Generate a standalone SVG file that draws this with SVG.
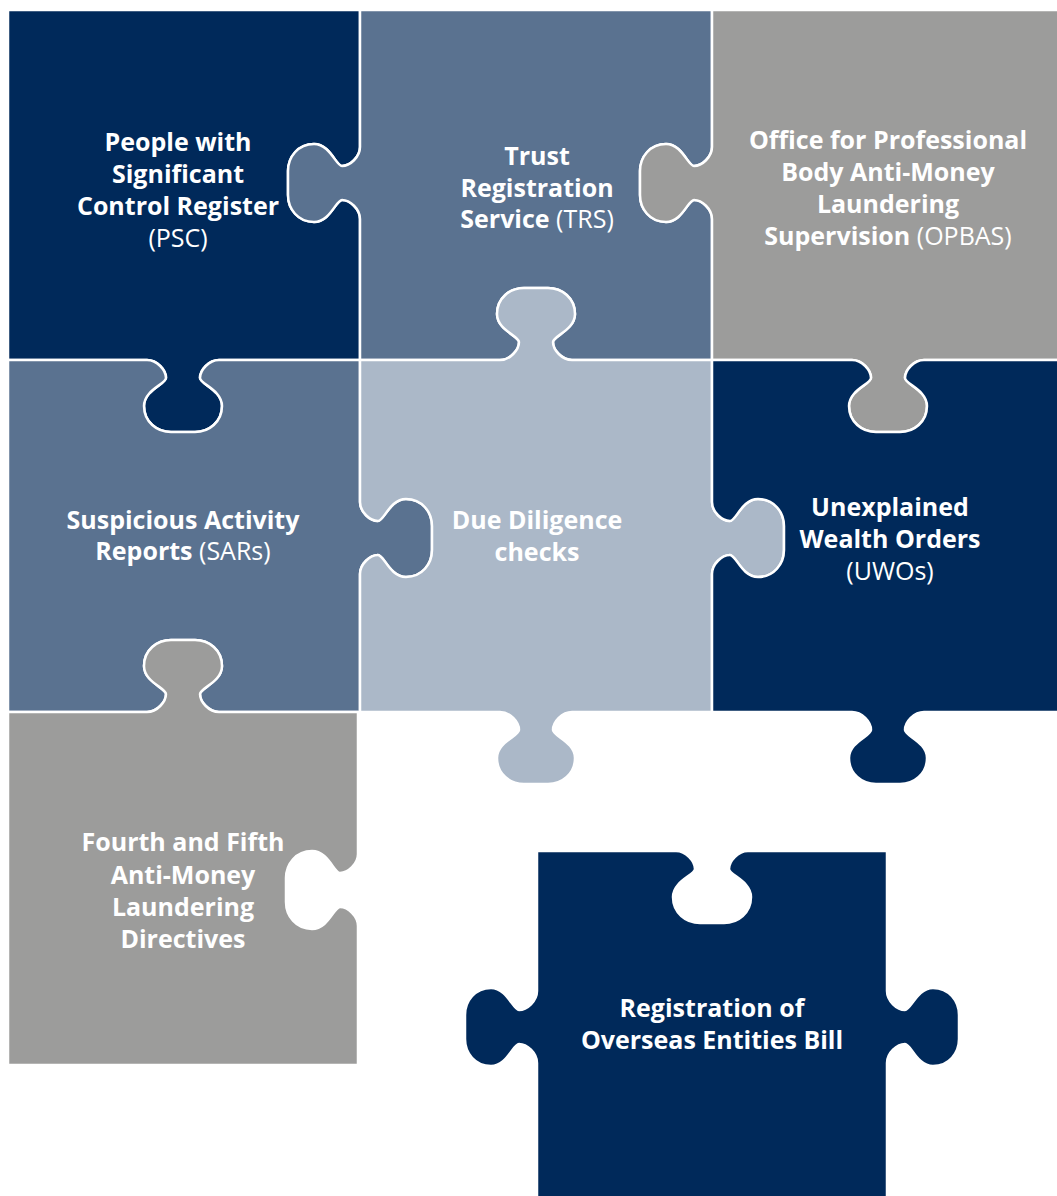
<svg xmlns="http://www.w3.org/2000/svg" width="1057" height="1196" viewBox="0 0 1057 1196">
  <style>
    .piece { stroke: #ffffff; stroke-width: 2.5; stroke-linejoin: round; }
    .navy { fill: #00295a; }
    .slate { fill: #5a7290; }
    .grey { fill: #9c9c9b; }
    .light { fill: #abb8c8; }
    .label { font-family: "Open Sans", "Noto Sans", sans-serif; font-size: 25px; fill: #ffffff; text-anchor: middle; font-weight: 700; }
    .reg { font-weight: 400; }
  </style>
  <rect width="1057" height="1196" fill="#ffffff"/>

  <g id="psc">
    <path class="piece navy" d="M8 10 H360 V147 C360 157 350 166 342 166 C336 166 330 144 314 144 C298 144 288 157 288 171 L288 195 C288 209 298 222 314 222 C330 222 336 200 342 200 C350 200 360 209 360 219 V360 H219 C209 360 200 370 200 378 C200 384 222 390 222 406 C222 422 209 432 195 432 L171 432 C157 432 144 422 144 406 C144 390 166 384 166 378 C166 370 157 360 147 360 H8 Z"/>
    <text class="label" x="178" y="151">People with</text>
    <text class="label" x="178" y="183">Significant</text>
    <text class="label" x="178" y="215">Control Register</text>
    <text class="label reg" x="178" y="247">(PSC)</text>
  </g>

  <g id="trs">
    <path class="piece slate" d="M360 10 H712 V147 C712 157 702 166 694 166 C688 166 682 144 666 144 C650 144 640 157 640 171 L640 195 C640 209 650 222 666 222 C682 222 688 200 694 200 C702 200 712 209 712 219 V360 H572 C562 360 553 350 553 342 C553 336 575 330 575 314 C575 298 562 288 548 288 L524 288 C510 288 497 298 497 314 C497 330 519 336 519 342 C519 350 510 360 500 360 H360 V219 C360 209 350 200 342 200 C336 200 330 222 314 222 C298 222 288 209 288 195 L288 171 C288 157 298 144 314 144 C330 144 336 166 342 166 C350 166 360 157 360 147 V10 Z"/>
    <text class="label" x="537" y="165">Trust</text>
    <text class="label" x="537" y="197">Registration</text>
    <text class="label" x="537" y="228">Service<tspan class="reg"> (TRS)</tspan></text>
  </g>

  <g id="opbas">
    <path class="piece grey" d="M712 10 H1060 V360 H924 C914 360 905 370 905 378 C905 384 927 390 927 406 C927 422 914 432 900 432 L876 432 C862 432 849 422 849 406 C849 390 871 384 871 378 C871 370 862 360 852 360 H712 V219 C712 209 702 200 694 200 C688 200 682 222 666 222 C650 222 640 209 640 195 L640 171 C640 157 650 144 666 144 C682 144 688 166 694 166 C702 166 712 157 712 147 V10 Z"/>
    <text class="label" x="888" y="149">Office for Professional</text>
    <text class="label" x="888" y="181">Body Anti-Money</text>
    <text class="label" x="888" y="213">Laundering</text>
    <text class="label" x="888" y="245">Supervision<tspan class="reg"> (OPBAS)</tspan></text>
  </g>

  <g id="sars">
    <path class="piece slate" d="M8 360 H147 C157 360 166 370 166 378 C166 384 144 390 144 406 C144 422 157 432 171 432 L195 432 C209 432 222 422 222 406 C222 390 200 384 200 378 C200 370 209 360 219 360 H360 V502 C360 512 370 521 378 521 C384 521 390 499 406 499 C422 499 432 512 432 526 L432 550 C432 564 422 577 406 577 C390 577 384 555 378 555 C370 555 360 564 360 574 V712 H219 C209 712 200 702 200 694 C200 688 222 682 222 666 C222 650 209 640 195 640 L171 640 C157 640 144 650 144 666 C144 682 166 688 166 694 C166 702 157 712 147 712 H8 Z"/>
    <text class="label" x="183" y="529">Suspicious Activity</text>
    <text class="label" x="183" y="560">Reports<tspan class="reg"> (SARs)</tspan></text>
  </g>

  <g id="due-diligence">
    <path class="piece light" d="M360 360 H500 C510 360 519 350 519 342 C519 336 497 330 497 314 C497 298 510 288 524 288 L548 288 C562 288 575 298 575 314 C575 330 553 336 553 342 C553 350 562 360 572 360 H712 V502 C712 512 722 521 730 521 C736 521 742 499 758 499 C774 499 784 512 784 526 L784 550 C784 564 774 577 758 577 C742 577 736 555 730 555 C722 555 712 564 712 574 V712 H572 C562 712 553 722 553 730 C553 736 575 742 575 758 C575 774 562 784 548 784 L524 784 C510 784 497 774 497 758 C497 742 519 736 519 730 C519 722 510 712 500 712 H360 V574 C360 564 370 555 378 555 C384 555 390 577 406 577 C422 577 432 564 432 550 L432 526 C432 512 422 499 406 499 C390 499 384 521 378 521 C370 521 360 512 360 502 V360 Z"/>
    <text class="label" x="537" y="529">Due Diligence</text>
    <text class="label" x="537" y="561">checks</text>
  </g>

  <g id="uwo">
    <path class="piece navy" d="M712 360 H852 C862 360 871 370 871 378 C871 384 849 390 849 406 C849 422 862 432 876 432 L900 432 C914 432 927 422 927 406 C927 390 905 384 905 378 C905 370 914 360 924 360 H1060 V712 H924 C914 712 905 722 905 730 C905 736 927 742 927 758 C927 774 914 784 900 784 L876 784 C862 784 849 774 849 758 C849 742 871 736 871 730 C871 722 862 712 852 712 H712 V574 C712 564 722 555 730 555 C736 555 742 577 758 577 C774 577 784 564 784 550 L784 526 C784 512 774 499 758 499 C742 499 736 521 730 521 C722 521 712 512 712 502 V360 Z"/>
    <text class="label" x="890" y="516">Unexplained</text>
    <text class="label" x="890" y="548">Wealth Orders</text>
    <text class="label reg" x="890" y="580">(UWOs)</text>
  </g>

  <g id="directives">
    <path class="piece grey" d="M8 712 H147 C157 712 166 702 166 694 C166 688 144 682 144 666 C144 650 157 640 171 640 L195 640 C209 640 222 650 222 666 C222 682 200 688 200 694 C200 702 209 712 219 712 H358 V854 C358 864 348 873 340 873 C334 873 328 851 312 851 C296 851 286 864 286 878 L286 902 C286 916 296 929 312 929 C328 929 334 907 340 907 C348 907 358 916 358 926 V1065 H8 Z"/>
    <text class="label" x="183" y="851">Fourth and Fifth</text>
    <text class="label" x="183" y="884">Anti-Money</text>
    <text class="label" x="183" y="916">Laundering</text>
    <text class="label" x="183" y="948">Directives</text>
  </g>

  <g id="overseas-entities">
    <path class="piece navy" d="M537 851 H676 C686 851 695 861 695 869 C695 875 673 881 673 897 C673 913 686 923 700 923 L724 923 C738 923 751 913 751 897 C751 881 729 875 729 869 C729 861 738 851 748 851 H887 V991 C887 1001 897 1010 905 1010 C911 1010 917 988 933 988 C949 988 959 1001 959 1015 L959 1039 C959 1053 949 1066 933 1066 C917 1066 911 1044 905 1044 C897 1044 887 1053 887 1063 V1200 H537 V1063 C537 1053 527 1044 519 1044 C513 1044 507 1066 491 1066 C475 1066 465 1053 465 1039 L465 1015 C465 1001 475 988 491 988 C507 988 513 1010 519 1010 C527 1010 537 1001 537 991 V851 Z"/>
    <text class="label" x="712" y="1017">Registration of</text>
    <text class="label" x="712" y="1049">Overseas Entities Bill</text>
  </g>
</svg>
